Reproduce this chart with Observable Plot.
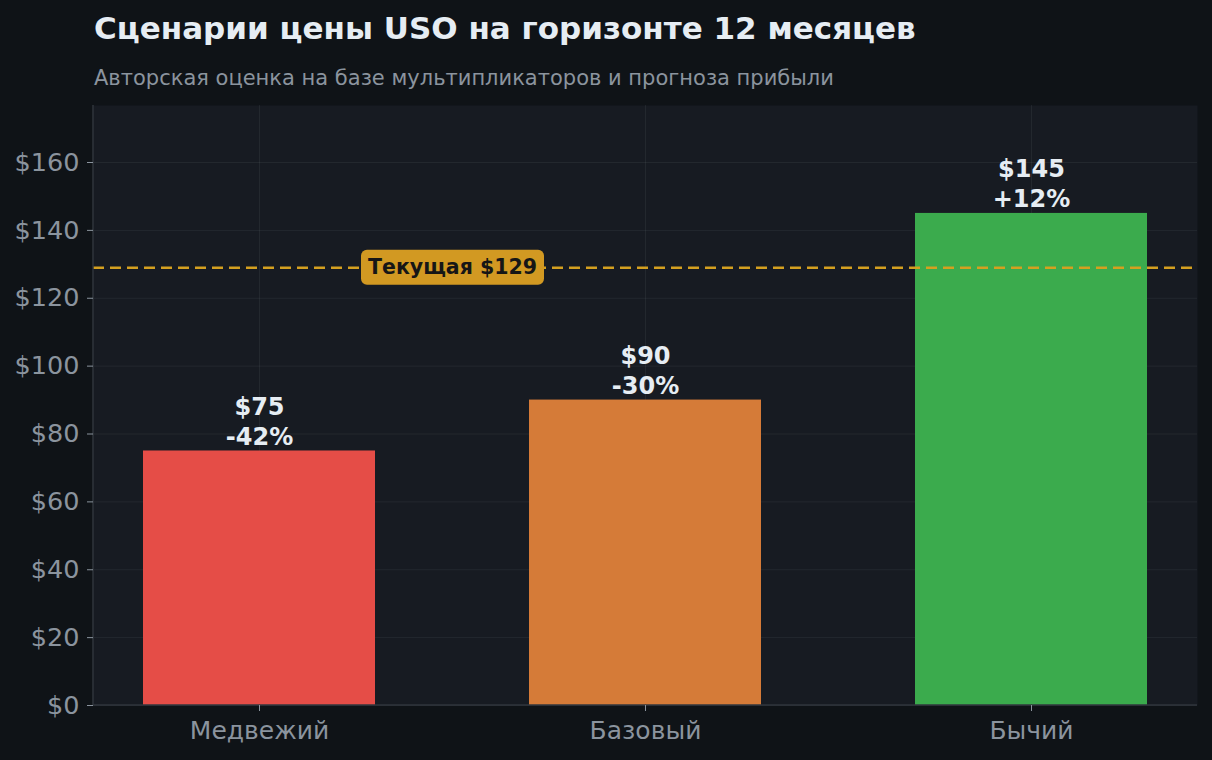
<!DOCTYPE html>
<html>
<head>
<meta charset="utf-8">
<script src="https://cdn.jsdelivr.net/npm/d3@7"></script>
<script src="https://cdn.jsdelivr.net/npm/@observablehq/plot@0.6"></script>
<style>
  html, body { margin: 0; padding: 0; background: #0f1317; }
  #wrap { position: relative; width: 1212px; height: 760px; background: #0f1317; overflow: hidden; font-family: "DejaVu Sans", sans-serif; }
  #title { position: absolute; left: 94px; top: 10px; font-size: 31px; line-height: 36px; font-weight: bold; color: #e6edf3; white-space: nowrap; }
  #subtitle { position: absolute; left: 94px; top: 65px; font-size: 21px; line-height: 26px; color: #8b949e; white-space: nowrap; }
  #chart { position: absolute; left: 0; top: 90px; }
</style>
</head>
<body>
<div id="wrap">
  <div id="title">Сценарии цены USO на горизонте 12 месяцев</div>
  <div id="subtitle">Авторская оценка на базе мультипликаторов и прогноза прибыли</div>
  <div id="chart"></div>
</div>
<script>
const categories = ["Медвежий", "Базовый", "Бычий"];
const targets = [75, 90, 145];
const barColors = ["#e54d47", "#d57b38", "#3bab4d"];
const currentPrice = 129;
const yTicks = [0, 20, 40, 60, 80, 100, 120, 140, 160];

const data = categories.map((c, i) => ({
  cat: c,
  value: targets[i],
  label: `$${targets[i]}\n${targets[i] >= currentPrice ? "+" : ""}${Math.round((targets[i] - currentPrice) / currentPrice * 100)}%`
}));

const spines = (index, scales, values, dims) => {
  const g = d3.create("svg:g");
  const x0 = dims.marginLeft, x1 = dims.width - dims.marginRight;
  const y0 = dims.marginTop, y1 = dims.height - dims.marginBottom;
  g.append("line").attr("x1", x0).attr("x2", x0).attr("y1", y0).attr("y2", y1)
    .attr("stroke", "#30363d").attr("stroke-width", 1.5);
  g.append("line").attr("x1", x0).attr("x2", x1).attr("y1", y1).attr("y2", y1)
    .attr("stroke", "#30363d").attr("stroke-width", 1.5);
  return g.node();
};

const chart = Plot.plot({
  width: 1212,
  height: 670,
  marginTop: 15,
  marginBottom: 55,
  marginLeft: 93,
  marginRight: 15,
  style: { background: "transparent", fontFamily: "DejaVu Sans, sans-serif", fontSize: "25px", color: "#8b949e" },
  x: { domain: categories, paddingInner: 0.4, paddingOuter: 0.13, label: null },
  y: { domain: [0, 176.8], label: null },
  color: { domain: categories, range: barColors },
  marks: [
    Plot.frame({ fill: "#171b22", stroke: null }),
    Plot.gridY(yTicks, { stroke: "#c9d1d9", strokeOpacity: 0.07, strokeWidth: 1 }),
    Plot.gridX({ stroke: "#c9d1d9", strokeOpacity: 0.07, strokeWidth: 1 }),
    Plot.barY(data, { x: "cat", y: "value", fill: "cat" }),
    Plot.ruleY([currentPrice], { stroke: "#d4a020", strokeWidth: 2.5, strokeDasharray: "11,6" }),
    Plot.text([currentPrice], {
      x: () => categories[0],
      y: d => d,
      text: d => `Текущая $${d}`,
      fill: "#161616",
      fontWeight: "bold",
      fontSize: 20.5,
      render(index, scales, values, dims, context, next) {
        const g = next(index, scales, values, dims, context);
        const half = (scales.x(categories[1]) - scales.x(categories[0])) / 2;
        const wrap = d3.create("svg:g").attr("class", "cur-wrap").attr("transform", `translate(${half},0)`);
        wrap.node().appendChild(g);
        return wrap.node();
      }
    }),
    Plot.text(data, {
      x: "cat", y: "value", text: "label",
      lineAnchor: "bottom", dy: -6,
      fill: "#e6edf3", fontWeight: "bold", fontSize: 24, lineHeight: 1.25
    }),
    spines,
    Plot.axisY(yTicks, { tickFormat: d => "$" + d, tickSize: 6, tickPadding: 8, stroke: "#8b949e", fill: "#8b949e", fontSize: 25.5, label: null }),
    Plot.axisX({ tickSize: 6, tickPadding: 10, stroke: "#8b949e", fill: "#8b949e", fontSize: 25, label: null })
  ]
});

document.getElementById("chart").appendChild(chart);

// rounded badge behind the current-price label
const txt = chart.querySelector(".cur-wrap text");
if (txt) {
  const bb = txt.getBBox();
  const padX = 7;
  const h = 35;
  const cy = bb.y + bb.height / 2;
  const rect = document.createElementNS("http://www.w3.org/2000/svg", "rect");
  rect.setAttribute("x", bb.x - padX);
  rect.setAttribute("y", cy - h / 2);
  rect.setAttribute("width", bb.width + 2 * padX);
  rect.setAttribute("height", h);
  rect.setAttribute("rx", 6);
  rect.setAttribute("fill", "#d29922");
  const tf = txt.getAttribute("transform");
  if (tf) rect.setAttribute("transform", tf);
  txt.parentNode.insertBefore(rect, txt);
}
</script>
</body>
</html>
